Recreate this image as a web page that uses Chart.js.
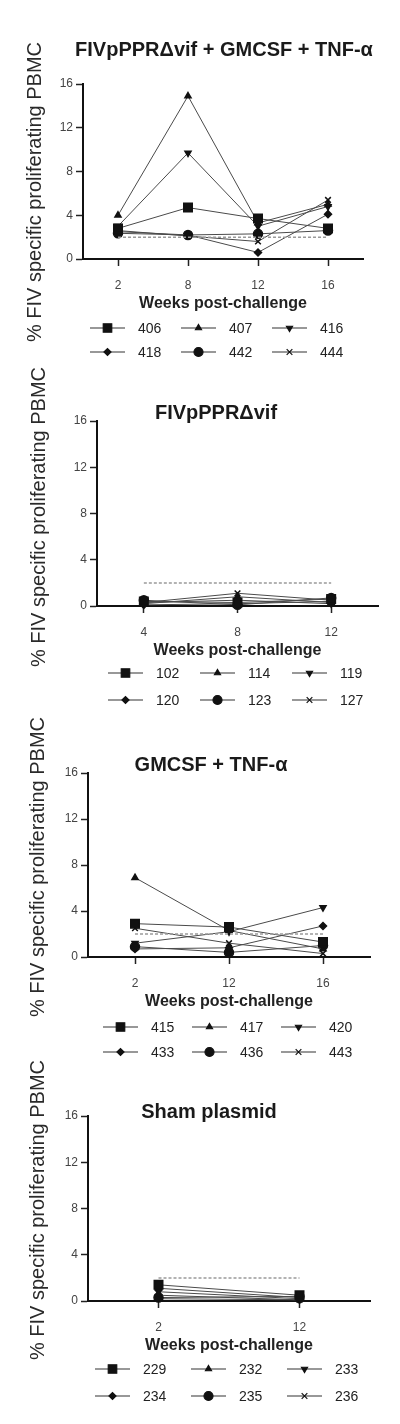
<!DOCTYPE html>
<html>
<head>
<meta charset="utf-8">
<script src="https://cdn.jsdelivr.net/npm/chart.js@4"></script>
<style>
  body { margin: 0; background: #fff; width: 400px; height: 1424px; position: relative; overflow: hidden; }
  canvas { position: absolute; left: 0; }
</style>
</head>
<body>
<canvas id="c1" width="400" height="372" style="top:0px"></canvas>
<canvas id="c2" width="400" height="352" style="top:360px"></canvas>
<canvas id="c3" width="400" height="362" style="top:700px"></canvas>
<canvas id="c4" width="400" height="379" style="top:1045px"></canvas>
<script>
// ---- data ----
const yTitle = "% FIV specific proliferating PBMC";
const xTitle = "Weeks post-challenge";

// panel 1: FIVpPPRΔvif + GMCSF + TNF-α
const weeksA = ["2", "8", "12", "16"];
const catsA = ["406", "407", "416", "418", "442", "444"];
const valsA = [
  [2.8, 4.7, 3.7, 2.8],
  [4.0, 14.9, 3.3, 5.0],
  [3.0, 9.7, 3.0, 4.8],
  [2.5, 2.2, 0.6, 4.1],
  [2.35, 2.2, 2.3, 2.6],
  [2.6, 2.1, 1.6, 5.4]
];
const cutoffA = [2, 2, 2, 2];

// panel 2: FIVpPPRΔvif
const weeksB = ["4", "8", "12"];
const catsB = ["102", "114", "119", "120", "123", "127"];
const valsB = [
  [0.4, 0.3, 0.6],
  [0.2, 0.8, 0.3],
  [0.3, 0.5, 0.2],
  [0.1, 0.2, 0.4],
  [0.5, 0.1, 0.7],
  [0.3, 1.1, 0.5]
];
const cutoffB = [2, 2, 2];

// panel 3: GMCSF + TNF-α
const weeksC = ["2", "12", "16"];
const catsC = ["415", "417", "420", "433", "436", "443"];
const valsC = [
  [2.9, 2.6, 1.3],
  [6.9, 2.3, 0.7],
  [1.2, 2.2, 4.3],
  [0.7, 0.8, 2.7],
  [0.9, 0.4, 1.0],
  [2.5, 1.2, 0.3]
];
const cutoffC = [2, 2, 2];

// panel 4: Sham plasmid
const weeksD = ["2", "12"];
const catsD = ["229", "232", "233", "234", "235", "236"];
const valsD = [
  [1.4, 0.5],
  [1.1, 0.3],
  [0.8, 0.2],
  [0.5, 0.1],
  [0.3, 0.4],
  [0.2, 0.1]
];
const cutoffD = [2, 2];

// ---- styles ----
const FONT = '"Liberation Sans", Arial, sans-serif';
Chart.defaults.font.family = FONT;
const markerStyle = ["rect", "triangle", "triangle", "rectRot", "circle", "crossRot"];
const markerRot = [0, 0, 180, 0, 0, 0];
const markerSize = [6, 3.5, 3.5, 3.5, 4.5, 4];

// titles, rotated y title and the line+marker legend
const panelText = {
  id: "panelText",
  afterDraw(chart, args, o) {
    const ctx = chart.ctx;
    ctx.save();
    ctx.fillStyle = "#1a1a1a";
    ctx.textAlign = "center";
    ctx.textBaseline = "middle";
    ctx.font = "bold 20px " + FONT;
    ctx.fillText(o.title, o.titleX, o.titleY);

    ctx.save();
    ctx.translate(o.yTitleX, o.yTitleY);
    ctx.rotate(-Math.PI / 2);
    ctx.font = "20px " + FONT;
    ctx.fillStyle = "#2a2a2a";
    ctx.fillText(yTitle, 0, 0);
    ctx.restore();

    ctx.font = "14px " + FONT;
    ctx.textAlign = "left";
    const items = chart.data.datasets.filter(d => !d.isCutoff);
    items.forEach((d, i) => {
      const x = o.legX + (i % 3) * o.legPitch;
      const y = o.legRows[Math.floor(i / 3)];
      ctx.strokeStyle = "#333";
      ctx.lineWidth = 1.2;
      ctx.beginPath();
      ctx.moveTo(x, y);
      ctx.lineTo(x + 35, y);
      ctx.stroke();
      ctx.fillStyle = "#111";
      ctx.strokeStyle = "#111";
      Chart.helpers.drawPoint(ctx, {
        pointStyle: d.pointStyle, rotation: d.pointRotation,
        radius: d.pointRadius, borderWidth: 1.5
      }, x + 17.5, y);
      ctx.fillStyle = "#222";
      ctx.fillText(d.label, x + 48, y + 1);
    });
    ctx.restore();
  }
};

function makePanel(p) {
  const YW = 40, XH = 54;
  const datasets = [{
    label: "cutoff",
    isCutoff: true,
    data: p.cutoff,
    borderColor: "#9a9a9a",
    borderWidth: 1.5,
    borderDash: [3, 2],
    pointRadius: 0
  }];
  p.cats.forEach((c, i) => {
    datasets.push({
      label: c,
      data: p.vals[i],
      borderColor: "#4a4a4a",
      borderWidth: 1,
      pointStyle: markerStyle[i],
      pointRotation: markerRot[i],
      pointRadius: markerSize[i],
      pointBackgroundColor: "#111",
      pointBorderColor: "#111",
      pointBorderWidth: 1.5,
      clip: false
    });
  });
  const top = p.top;
  new Chart(document.getElementById(p.id), {
    type: "line",
    data: { labels: p.weeks, datasets },
    options: {
      responsive: false,
      animation: false,
      layout: {
        padding: {
          left: p.L - YW,
          right: 400 - p.R,
          top: p.T - top,
          bottom: top + p.H - p.B - XH
        }
      },
      plugins: {
        legend: { display: false },
        tooltip: { enabled: false },
        panelText: {
          title: p.title, titleX: p.titleX, titleY: p.titleY - top,
          yTitleX: p.yTitleX, yTitleY: p.yTitleY - top,
          legX: p.legX, legPitch: p.legPitch,
          legRows: p.legRows.map(v => v - top)
        }
      },
      scales: {
        x: {
          type: "category",
          offset: true,
          afterFit: s => { s.height = XH; },
          border: { display: true, color: "#111", width: 2 },
          grid: { drawOnChartArea: false, drawTicks: true, tickLength: 7, tickColor: "#222", tickWidth: 1.5 },
          ticks: { color: "#444", font: { size: 12 }, padding: 12, maxRotation: 0 },
          title: { display: true, text: xTitle, color: "#222", font: { size: 16, weight: "bold" }, padding: 0 }
        },
        y: {
          min: 0,
          max: 16,
          afterFit: s => { s.width = YW; },
          border: { display: true, color: "#111", width: 2 },
          grid: { drawOnChartArea: false, drawTicks: true, tickLength: 7, tickColor: "#222", tickWidth: 1.5 },
          ticks: { stepSize: 4, color: "#444", font: { size: 12 }, padding: 3 }
        }
      }
    },
    plugins: [panelText]
  });
}

makePanel({
  id: "c1", top: 0, H: 372, L: 83, R: 363, T: 84, B: 259,
  weeks: weeksA, cats: catsA, vals: valsA, cutoff: cutoffA,
  title: "FIVpPPRΔvif + GMCSF + TNF-α", titleX: 224, titleY: 50,
  yTitleX: 35, yTitleY: 192, legX: 90, legPitch: 91, legRows: [328, 352]
});
makePanel({
  id: "c2", top: 360, H: 352, L: 97, R: 378, T: 421, B: 606,
  weeks: weeksB, cats: catsB, vals: valsB, cutoff: cutoffB,
  title: "FIVpPPRΔvif", titleX: 216, titleY: 413,
  yTitleX: 39, yTitleY: 517, legX: 108, legPitch: 92, legRows: [673, 700]
});
makePanel({
  id: "c3", top: 700, H: 362, L: 88, R: 370, T: 773, B: 957,
  weeks: weeksC, cats: catsC, vals: valsC, cutoff: cutoffC,
  title: "GMCSF + TNF-α", titleX: 211, titleY: 765,
  yTitleX: 38, yTitleY: 867, legX: 103, legPitch: 89, legRows: [1027, 1052]
});
makePanel({
  id: "c4", top: 1045, H: 379, L: 88, R: 370, T: 1116, B: 1301,
  weeks: weeksD, cats: catsD, vals: valsD, cutoff: cutoffD,
  title: "Sham plasmid", titleX: 209, titleY: 1112,
  yTitleX: 38, yTitleY: 1210, legX: 95, legPitch: 96, legRows: [1369, 1396]
});
</script>
</body>
</html>
